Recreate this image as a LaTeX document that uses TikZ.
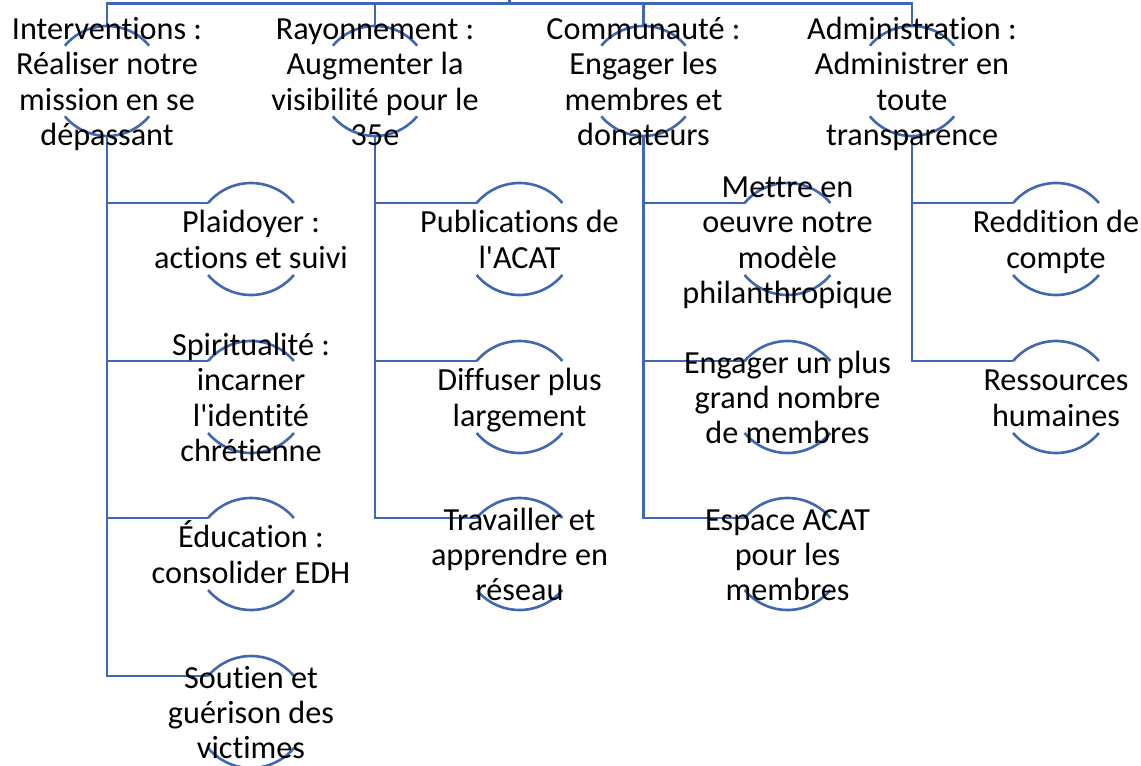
\documentclass[tikz,border=0pt]{standalone}
\usepackage{fontspec}
\setmainfont{Carlito}[Ligatures=NoCommon]
\definecolor{lnblue}{RGB}{63,103,178}
\newcommand\ls{\rule[-6.2pt]{0pt}{35.2pt}}
\tikzset{
  hubA/.style={circle, draw=none, minimum size=110pt, inner sep=0pt, outer sep=0pt},
  hubB/.style={circle, draw=none, minimum size=112pt, inner sep=0pt, outer sep=0pt},
  conn/.style={draw=lnblue, line width=2.6pt},
  arcline/.style={draw=lnblue, line width=2.6pt},
  lbl/.style={align=center, inner sep=0pt, text=black, font={\fontsize{32.2}{35.2}\selectfont}}
}
\newcommand\arcsof[2]{%
  \draw[arcline] (#1.40) arc[start angle=40, end angle=140, radius=#2];
  \draw[arcline] (#1.220) arc[start angle=220, end angle=320, radius=#2];}
\begin{document}
\begin{tikzpicture}[x=1pt,y=1pt]
\useasboundingbox (0,0) rectangle (1141,-766);
% level 1 circles
\node[hubA] (A) at (107,-81) {};
\node[hubA] (B) at (375,-81) {};
\node[hubA] (C) at (643.5,-81) {};
\node[hubA] (D) at (912,-81) {};
% children
\node[hubB] (A1) at (251,-239) {};
\node[hubB] (A2) at (251,-397) {};
\node[hubB] (A3) at (251,-554) {};
\node[hubB] (A4) at (251,-712) {};
\node[hubB] (B1) at (519.5,-239) {};
\node[hubB] (B2) at (519.5,-397) {};
\node[hubB] (B3) at (519.5,-554) {};
\node[hubB] (C1) at (787.5,-239) {};
\node[hubB] (C2) at (787.5,-397) {};
\node[hubB] (C3) at (787.5,-554) {};
\node[hubB] (D1) at (1056,-239) {};
\node[hubB] (D2) at (1056,-397) {};
% root joint
\coordinate (rt) at (509.5,-3.3);
\coordinate (rtop) at (509.5,4);
% arcs
\foreach \n in {A,B,C,D}{\arcsof{\n}{55pt}}
\foreach \n in {A1,A2,A3,A4,B1,B2,B3,C1,C2,C3,D1,D2}{\arcsof{\n}{56pt}}
% connectors
\draw[conn] (rt) -- (rtop);
\foreach \n in {A,B,C,D}{\draw[conn] (\n.north) |- (rt);}
\foreach \p/\c in {A/A1,A/A2,A/A3,A/A4,B/B1,B/B2,B/B3,C/C1,C/C2,C/C3,D/D1,D/D2}{\draw[conn] (\p.south) |- (\c.140);}
% texts
\node[lbl] (At) at (A.center) {\ls Interventions :\\\ls Réaliser notre\\\ls mission en se\\\ls dépassant};
\node[lbl] (Bt) at (B.center) {\ls Rayonnement :\\\ls Augmenter la\\\ls visibilité pour le\\\ls 35e};
\node[lbl] (Ct) at (C.center) {\ls Communauté :\\\ls Engager les\\\ls membres et\\\ls donateurs};
\node[lbl] (Dt) at (D.center) {\ls Administration :\\\ls Administrer en\\\ls toute\\\ls transparence};
\node[lbl] (A1t) at (A1.center) {\ls Plaidoyer :\\\ls actions et suivi};
\node[lbl] (A2t) at (A2.center) {\ls Spiritualité :\\\ls incarner\\\ls l\textquotesingle identité\\\ls chrétienne};
\node[lbl] (A3t) at (A3.center) {\ls Éducation :\\\ls consolider EDH};
\node[lbl] (A4t) at (A4.center) {\ls Soutien et\\\ls guérison des\\\ls victimes};
\node[lbl] (B1t) at (B1.center) {\ls Publications de\\\ls l\textquotesingle ACAT};
\node[lbl] (B2t) at (B2.center) {\ls Diffuser plus\\\ls largement};
\node[lbl] (B3t) at (B3.center) {\ls Travailler et\\\ls apprendre en\\\ls réseau};
\node[lbl] (C1t) at (C1.center) {\ls Mettre en\\\ls oeuvre notre\\\ls modèle\\\ls philanthropique};
\node[lbl] (C2t) at (C2.center) {\ls Engager un plus\\\ls grand nombre\\\ls de membres};
\node[lbl] (C3t) at (C3.center) {\ls Espace ACAT\\\ls pour les\\\ls membres};
\node[lbl] (D1t) at (D1.center) {\ls Reddition de\\\ls compte};
\node[lbl] (D2t) at (D2.center) {\ls Ressources\\\ls humaines};
\end{tikzpicture}
\end{document}
